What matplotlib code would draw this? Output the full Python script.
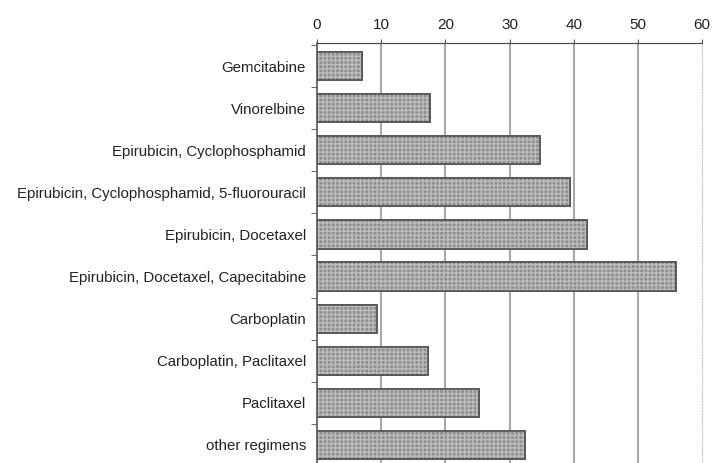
import matplotlib.pyplot as plt
import numpy as np

# Regimens and share (%)
regimens = ['Gemcitabine', 'Vinorelbine', 'Epirubicin, Cyclophosphamid',
            'Epirubicin, Cyclophosphamid, 5-fluorouracil', 'Epirubicin, Docetaxel',
            'Epirubicin, Docetaxel, Capecitabine', 'Carboplatin',
            'Carboplatin, Paclitaxel', 'Paclitaxel', 'other regimens']
values = [7.0, 17.6, 34.8, 39.4, 42.0, 55.9, 9.3, 17.3, 25.2, 32.4]
xticks = [0, 10, 20, 30, 40, 50, 60]

plt.rcParams['font.family'] = ['Liberation Sans', 'DejaVu Sans']

fig = plt.figure(figsize=(7.13, 4.63), dpi=100)
ax = fig.add_axes([0.4446, -0.0108, 0.54, 0.918])

y = np.arange(len(regimens))
# base bars: gray fill, dark outline
ax.barh(y, values, height=0.67, color='#8e8e8e', edgecolor='#555555',
        linewidth=1.2, zorder=3)
# stipple pattern overlay
ax.barh(y, values, height=0.67, color='none', edgecolor='#bdbdbd',
        hatch='++++', linewidth=0, zorder=4)
ax.barh(y, values, height=0.67, color='none', edgecolor='#555555',
        linewidth=1.2, zorder=5)

ax.set_xlim(0, 60)
ax.set_ylim(len(regimens) - 0.45, -0.55)
ax.xaxis.tick_top()
ax.set_xticks(xticks)
ax.tick_params(axis='x', length=3, color='#555555', labelsize=11,
               labelcolor='#222222', pad=5)
ax.set_yticks(y)
ax.set_yticklabels(regimens, fontsize=10.8, color='#222222')
ax.tick_params(axis='y', which='major', length=0, pad=8)
ax.set_yticks(np.arange(-0.5, len(regimens), 1), minor=True)
ax.tick_params(axis='y', which='minor', length=4, color='#555555')

for xv in xticks[1:-1]:
    ax.axvline(xv, color='#a8a8a8', linewidth=1.5, zorder=1)

ax.spines['top'].set_color('#444444')
ax.spines['top'].set_linestyle((0, (2, 1)))
ax.spines['left'].set_color('#555555')
ax.spines['left'].set_linewidth(1.2)
ax.spines['right'].set_color('#c4c4c4')
ax.spines['right'].set_linestyle(':')
ax.spines['bottom'].set_visible(False)

fig.savefig('out.png', dpi=100)
